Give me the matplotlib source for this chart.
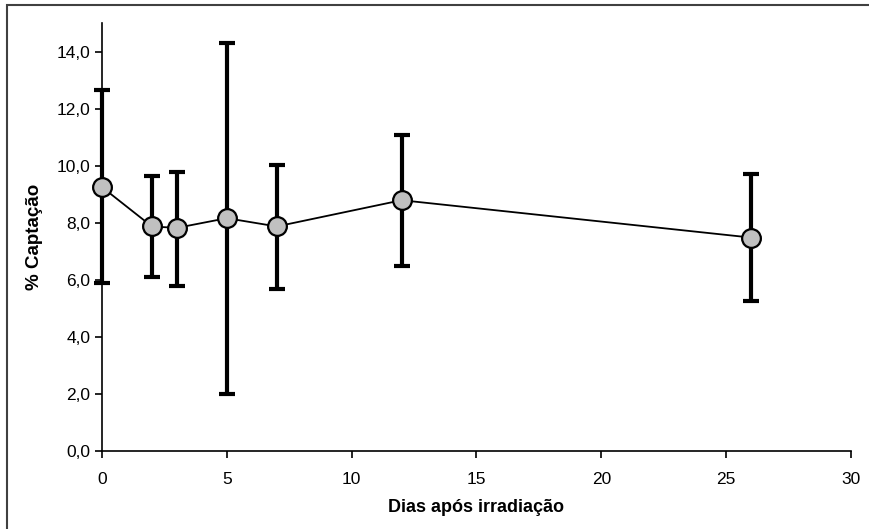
import matplotlib
matplotlib.use("Agg")
import matplotlib.pyplot as plt
from matplotlib.patches import Rectangle
from matplotlib.ticker import FuncFormatter

# dias apos irradiacao vs % captacao (media e limites das barras)
dias = [0, 2, 3, 5, 7, 12, 26]
captacao = [9.25, 7.87, 7.82, 8.16, 7.87, 8.79, 7.48]
limite_sup = [12.66, 9.63, 9.78, 14.29, 10.01, 11.08, 9.70]
limite_inf = [5.88, 6.11, 5.80, 2.00, 5.69, 6.49, 5.27]

err_baixo = [m - b for m, b in zip(captacao, limite_inf)]
err_cima = [t - m for m, t in zip(captacao, limite_sup)]

plt.rcParams['font.family'] = ['Liberation Sans', 'DejaVu Sans']

fig = plt.figure(figsize=(8.7, 5.29), dpi=100)
ax = fig.add_axes([0.1172, 0.1474, 0.861, 0.8091])

# border around the chart area (cut at right/bottom like the original)
fig.patches.append(Rectangle((7 / 870, -0.02), 1.02, 1 - 5 / 529 + 0.02,
                             transform=fig.transFigure, fill=False,
                             edgecolor='#404040', linewidth=1.5))

eb = ax.errorbar(dias, captacao, yerr=[err_baixo, err_cima], fmt='none',
                 ecolor='black', elinewidth=3.0, capsize=5.5, capthick=3.0, zorder=3)
for art in eb.get_children():
    art.set_clip_on(False)
ax.plot(dias, captacao, color='black', linewidth=1.3, marker='o',
        markersize=13.5, markerfacecolor='#c0c0c0', markeredgecolor='black',
        markeredgewidth=1.6, zorder=4, clip_on=False)

ax.set_xlim(0, 30)
ax.set_ylim(0, 15)
ax.set_xticks([0, 5, 10, 15, 20, 25, 30])
ax.set_yticks([0, 2, 4, 6, 8, 10, 12, 14])
ax.yaxis.set_major_formatter(FuncFormatter(lambda v, p: f"{v:.1f}".replace('.', ',')))

ax.spines['top'].set_visible(False)
ax.spines['right'].set_visible(False)
for s in ('left', 'bottom'):
    ax.spines[s].set_linewidth(1.2)
ax.tick_params(direction='out', length=5, width=1.2, labelsize=12.5, colors='black')
ax.tick_params(axis='x', pad=10)

ax.set_xlabel('Dias após irradiação', fontsize=13, fontweight='bold', labelpad=9)
ax.set_ylabel('% Captação', fontsize=13.5, fontweight='bold', labelpad=10)

fig.savefig('out.png', dpi=100)
